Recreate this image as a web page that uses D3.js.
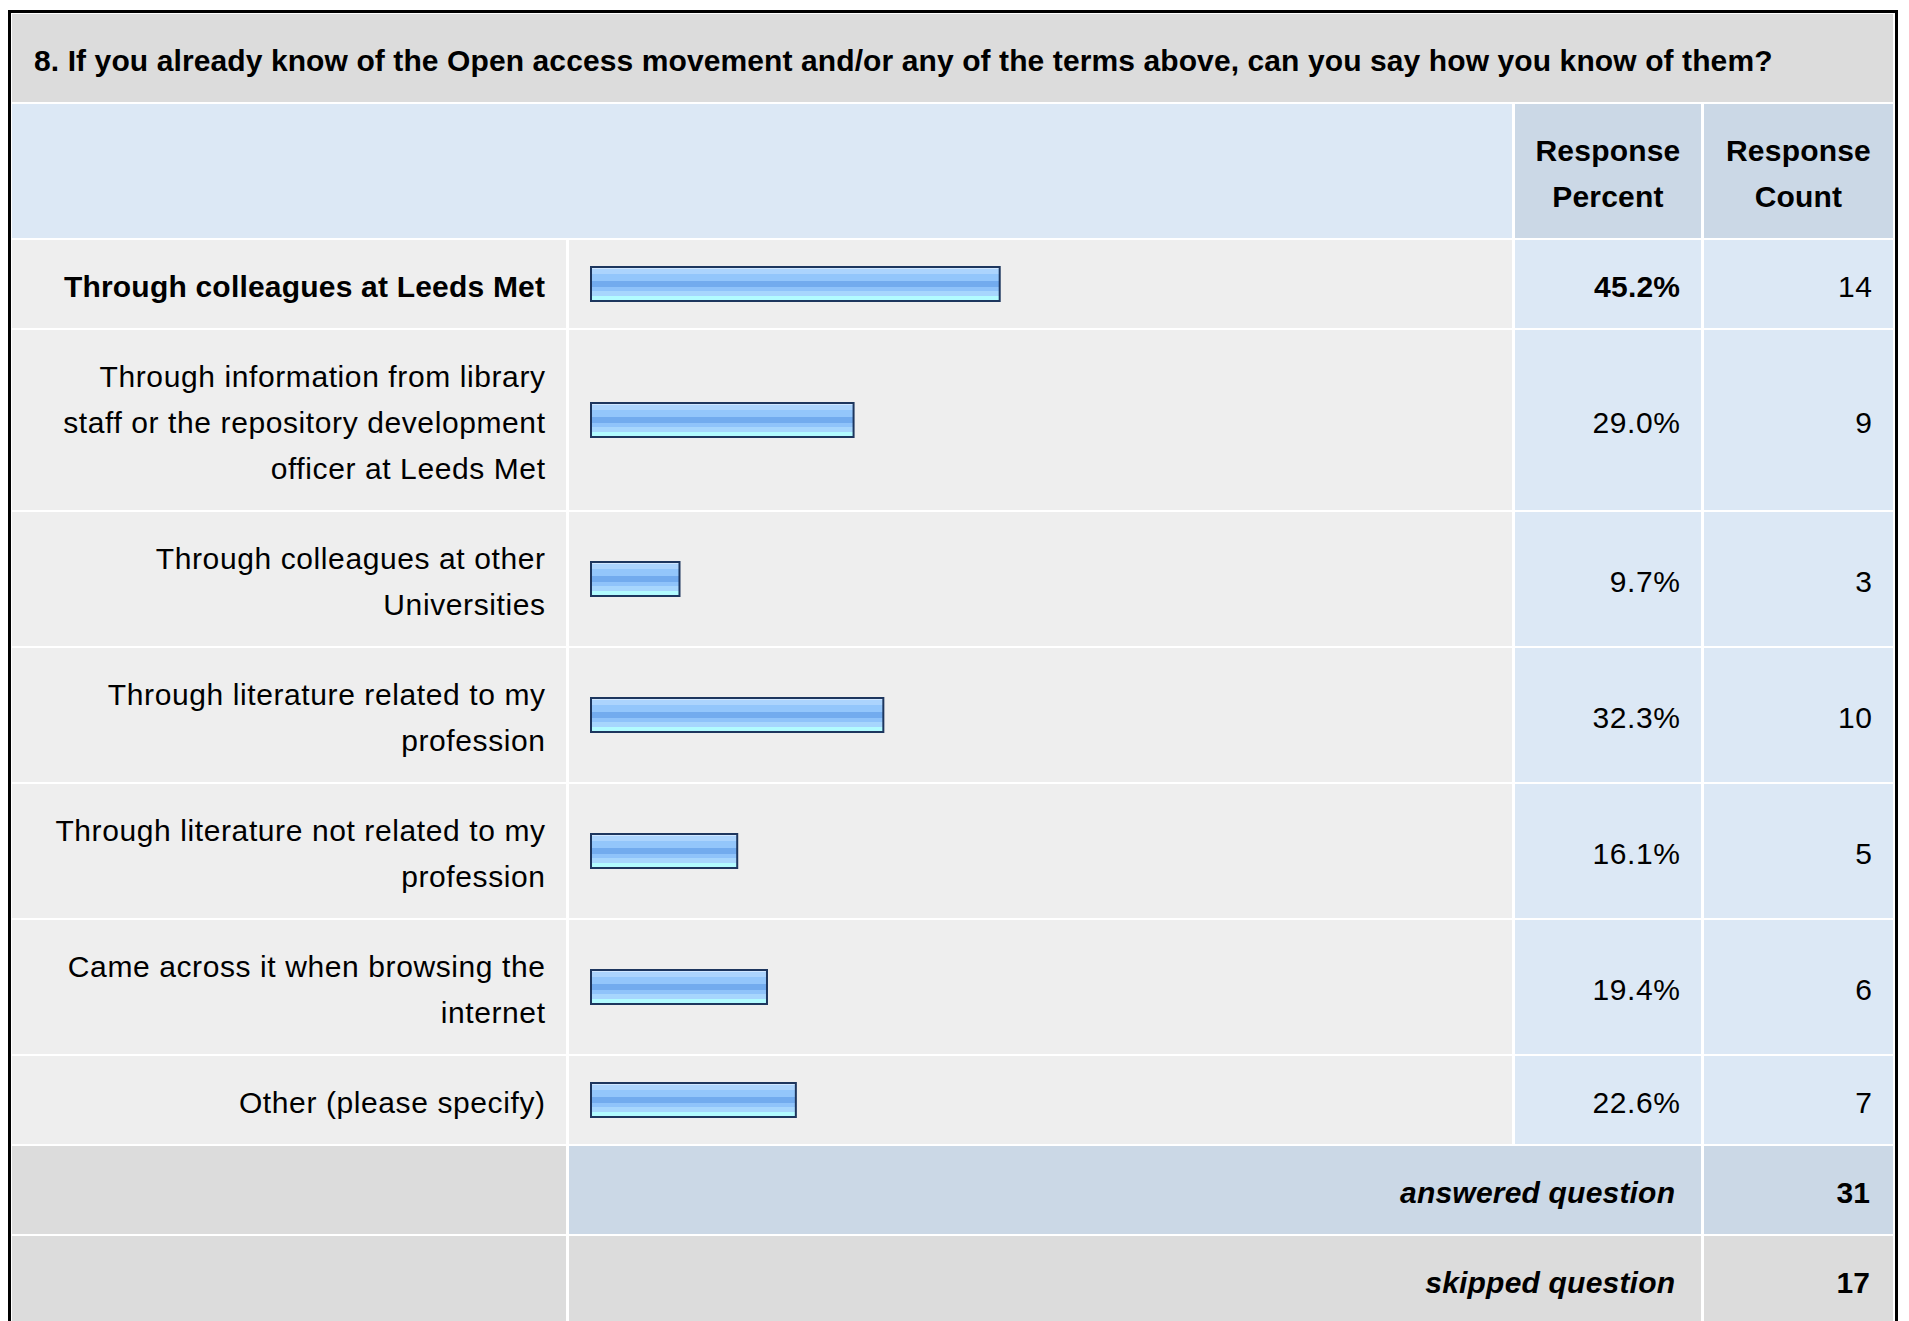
<!DOCTYPE html>
<html>
<head>
<meta charset="utf-8">
<script src="https://cdn.jsdelivr.net/npm/d3@7"></script>
<style>
  html, body { margin: 0; padding: 0; background: #ffffff; }
  svg { display: block; }
  text { font-family: "Liberation Sans", Arial, sans-serif; fill: #000; }
</style>
</head>
<body>
<svg id="chart" width="1909" height="1321"></svg>
<script>
// ---------- data ----------
const title = "8. If you already know of the Open access movement and/or any of the terms above, can you say how you know of them?";
const headerPercent = ["Response", "Percent"];
const headerCount = ["Response", "Count"];
const categories = [
  ["Through colleagues at Leeds Met"],
  ["Through information from library", "staff or the repository development", "officer at Leeds Met"],
  ["Through colleagues at other", "Universities"],
  ["Through literature related to my", "profession"],
  ["Through literature not related to my", "profession"],
  ["Came across it when browsing the", "internet"],
  ["Other (please specify)"]
];
const percents = [45.2, 29.0, 9.7, 32.3, 16.1, 19.4, 22.6];
const counts = [14, 9, 3, 10, 5, 6, 7];
const summaryLabels = ["answered question", "skipped question"];
const summaryValues = [31, 17];

// ---------- layout ----------
const svg = d3.select("#chart");
const FS = 30, LH = 46, GAP = 2;
const col = { l0: 12, l1: 566, b0: 569, b1: 1512, p0: 1515, p1: 1701, c0: 1704, c1: 1893 };
const C = { title: "#dcdcdc", head: "#dce8f5", head2: "#cbd8e6", row: "#eeeeee", rowBlue: "#dce8f5", sum: "#dcdcdc" };

// gradient for bars
const defs = svg.append("defs");
const grad = defs.append("linearGradient").attr("id", "barGrad").attr("x1", 0).attr("y1", 0).attr("x2", 0).attr("y2", 1);
const stops = [
  [0.00, "#cfe6ff"], [0.07, "#cfe6ff"], [0.07, "#acd4fd"], [0.22, "#acd4fd"],
  [0.22, "#93c6fb"], [0.40, "#93c6fb"], [0.40, "#72abee"], [0.60, "#72abee"],
  [0.60, "#8fc3fa"], [0.70, "#8fc3fa"], [0.70, "#a7d6fd"], [0.84, "#a7d6fd"],
  [0.84, "#b2fbff"], [1.00, "#b2fbff"]
];
stops.forEach(s => grad.append("stop").attr("offset", s[0]).attr("stop-color", s[1]));

// outer border
svg.append("rect").attr("x", 8).attr("y", 10).attr("width", 1890).attr("height", 1400).attr("fill", "#000");
svg.append("rect").attr("x", 11).attr("y", 13).attr("width", 1884).attr("height", 1400).attr("fill", "#fff");

function cell(x0, x1, y0, h, fill) {
  svg.append("rect").attr("x", x0).attr("y", y0).attr("width", x1 - x0).attr("height", h).attr("fill", fill);
}
function lines(arr, x, yc, anchor, opts = {}) {
  const n = arr.length;
  const fs = opts.fs || FS;
  const ls = opts.ls !== undefined ? opts.ls : (opts.bold ? 0.2 : 0.6);
  arr.forEach((t, i) => {
    svg.append("text")
      .attr("x", anchor === "end" ? x + ls : x)
      .attr("y", yc + (i - (n - 1) / 2) * LH + 0.36 * fs + 2.5)
      .attr("text-anchor", anchor)
      .attr("font-size", fs)
      .attr("letter-spacing", ls)
      .attr("font-weight", opts.bold ? "bold" : "normal")
      .attr("font-style", opts.italic ? "italic" : "normal")
      .text(t);
  });
}

// title band
cell(col.l0, col.c1, 14, 88, C.title);
lines([title], 34, 58, "start", { bold: true, ls: 0.1 });

// header
const headTop = 104, headH = 134;
cell(col.l0, col.b1, headTop, headH, C.head);
cell(col.p0, col.p1, headTop, headH, C.head2);
cell(col.c0, col.c1, headTop, headH, C.head2);
lines(headerPercent, (col.p0 + col.p1) / 2, headTop + headH / 2, "middle", { bold: true });
lines(headerCount, (col.c0 + col.c1) / 2, headTop + headH / 2, "middle", { bold: true });

// row geometry from line counts
const rowH = categories.map(c => 42 + LH * c.length);
const rowTop = [];
let y = headTop + headH + GAP;
rowH.forEach(h => { rowTop.push(y); y += h + GAP; });

const x = d3.scaleLinear().domain([0, 100]).range([591, 591 + 902]);
const BAR_H = 36;

categories.forEach((c, i) => {
  const t = rowTop[i], h = rowH[i], yc = t + h / 2;
  const bold = i === 0;
  cell(col.l0, col.l1, t, h, C.row);
  cell(col.b0, col.b1, t, h, C.row);
  cell(col.p0, col.p1, t, h, C.rowBlue);
  cell(col.c0, col.c1, t, h, C.rowBlue);
  lines(c, col.l1 - 21, yc, "end", { bold });
  svg.append("rect")
    .attr("x", x(0))
    .attr("y", yc - BAR_H / 2 + 1)
    .attr("width", x(percents[i]) - x(0) + 1)
    .attr("height", BAR_H - 2)
    .attr("fill", "url(#barGrad)")
    .attr("stroke", "#1d365e")
    .attr("stroke-width", 2);
  lines([percents[i].toFixed(1) + "%"], col.p1 - 21, yc, "end", { bold });
  lines([String(counts[i])], col.c1 - 21, yc, "end");
});

// summary rows
const sumFills = [[C.sum, C.head2, C.head2], [C.sum, C.sum, C.sum]];
summaryLabels.forEach((lab, i) => {
  const t = y + i * (88 + GAP), h = 88, yc = t + h / 2;
  cell(col.l0, col.l1, t, h, sumFills[i][0]);
  cell(col.b0, col.p1, t, h, sumFills[i][1]);
  cell(col.c0, col.c1, t, h, sumFills[i][2]);
  lines([lab], col.p1 - 26, yc, "end", { bold: true, italic: true });
  lines([String(summaryValues[i])], col.c1 - 23, yc, "end", { bold: true });
});
</script>
</body>
</html>
